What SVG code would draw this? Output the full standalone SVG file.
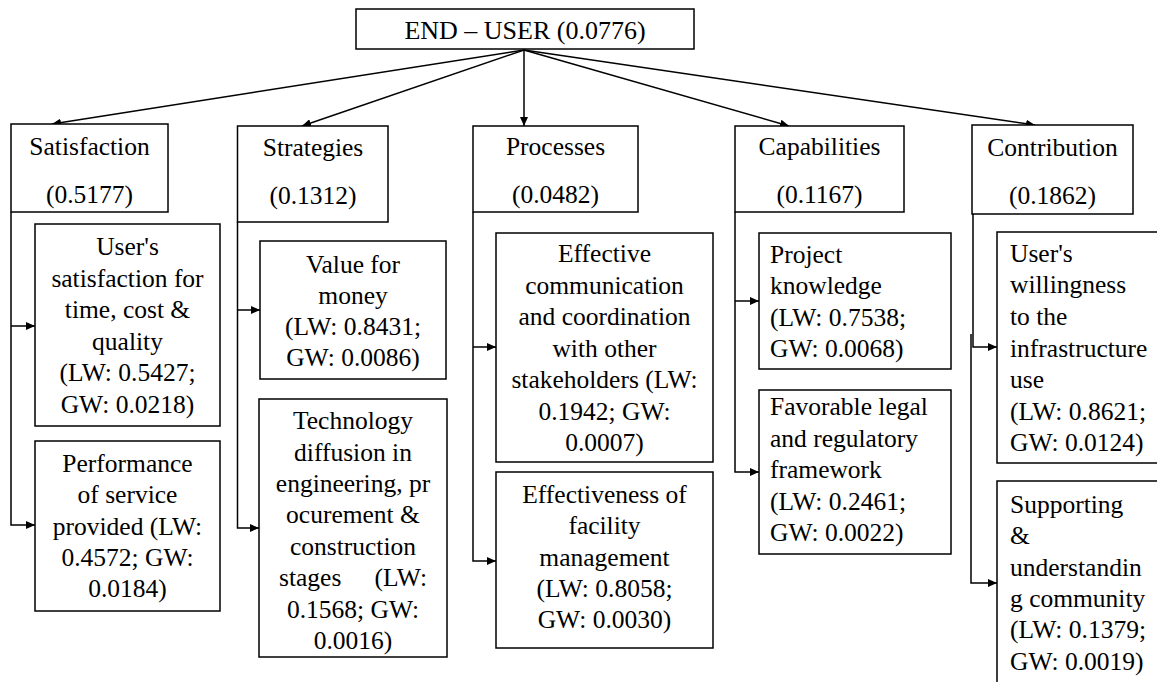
<svg xmlns="http://www.w3.org/2000/svg" width="1157" height="682" viewBox="0 0 1157 682">
  <style>
    .box { fill: #fff; stroke: #000; stroke-width: 1.5; }
    .t { font-family: "Liberation Serif", Tinos, "Times New Roman", Times, "DejaVu Serif", serif; font-size: 25.5px; fill: #000; }
    .c { text-anchor: middle; }
    .e { text-anchor: end; }
    .top { font-size: 26px; }
    .edge { fill: none; stroke: #000; stroke-width: 1.5; marker-end: url(#ah); }
  </style>
  <defs>
    <marker id="ah" markerUnits="userSpaceOnUse" markerWidth="10" markerHeight="8" refX="9" refY="4" orient="auto">
      <path d="M0,0 L9,4 L0,8 Z" fill="#000"/>
    </marker>
  </defs>
  <rect width="1157" height="682" fill="#fff"/>

  <!-- connectors -->
  <g id="connectors">
    <path class="edge" d="M524,50 L52,124"/>
    <path class="edge" d="M524,50 L302,126"/>
    <path class="edge" d="M524,50 L524,126"/>
    <path class="edge" d="M524,50 L789,126"/>
    <path class="edge" d="M524,50 L1035,125"/>

    <path class="edge" d="M11,212 V525 H35"/>
    <path class="edge" d="M11,326 H35"/>

    <path class="edge" d="M237.5,222 V528 H259"/>
    <path class="edge" d="M237.5,310 H260"/>

    <path class="edge" d="M473,212 V561 H496"/>
    <path class="edge" d="M473,347 H496"/>

    <path class="edge" d="M735,212 V472 H759"/>
    <path class="edge" d="M735,301 H759"/>

    <path class="edge" d="M973,214 V347 H997"/>
    <path class="edge" d="M971,334 V583 H997"/>
  </g>

  <!-- root -->
  <g id="end-user">
    <rect class="box" x="356" y="9" width="338" height="40"/>
    <text class="t top c" x="525" y="39">END – USER (0.0776)</text>
  </g>

  <!-- criteria -->
  <g id="satisfaction">
    <rect class="box" x="11" y="124" width="157" height="88"/>
    <text class="t c" x="89.5" y="155">Satisfaction</text>
    <text class="t c" x="89.5" y="203">(0.5177)</text>
  </g>
  <g id="strategies">
    <rect class="box" x="237.5" y="126" width="150.5" height="96"/>
    <text class="t c" x="313" y="156">Strategies</text>
    <text class="t c" x="313" y="204">(0.1312)</text>
  </g>
  <g id="processes">
    <rect class="box" x="473" y="126" width="165" height="86"/>
    <text class="t c" x="555.5" y="155">Processes</text>
    <text class="t c" x="555.5" y="203">(0.0482)</text>
  </g>
  <g id="capabilities">
    <rect class="box" x="735" y="126" width="169" height="86"/>
    <text class="t c" x="819.5" y="155">Capabilities</text>
    <text class="t c" x="819.5" y="203">(0.1167)</text>
  </g>
  <g id="contribution">
    <rect class="box" x="972" y="125" width="161" height="89"/>
    <text class="t c" x="1052.5" y="156">Contribution</text>
    <text class="t c" x="1052.5" y="204">(0.1862)</text>
  </g>

  <!-- sub-criteria: satisfaction -->
  <g id="users-satisfaction">
    <rect class="box" x="35" y="224" width="185" height="202"/>
    <text class="t c" x="127.5" y="255">User's</text>
    <text class="t c" x="127.5" y="286.6">satisfaction for</text>
    <text class="t c" x="127.5" y="318.2">time, cost &amp;</text>
    <text class="t c" x="127.5" y="349.8">quality</text>
    <text class="t c" x="127.5" y="381.4">(LW: 0.5427;</text>
    <text class="t c" x="127.5" y="413">GW: 0.0218)</text>
  </g>
  <g id="performance">
    <rect class="box" x="35" y="441" width="185" height="170"/>
    <text class="t c" x="127.5" y="472">Performance</text>
    <text class="t c" x="127.5" y="503">of service</text>
    <text class="t c" x="127.5" y="534.5">provided (LW:</text>
    <text class="t c" x="127.5" y="566">0.4572; GW:</text>
    <text class="t c" x="127.5" y="597">0.0184)</text>
  </g>

  <!-- sub-criteria: strategies -->
  <g id="value-for-money">
    <rect class="box" x="260" y="241" width="186" height="138"/>
    <text class="t c" x="353" y="273">Value for</text>
    <text class="t c" x="353" y="304">money</text>
    <text class="t c" x="353" y="335">(LW: 0.8431;</text>
    <text class="t c" x="353" y="366">GW: 0.0086)</text>
  </g>
  <g id="technology-diffusion">
    <rect class="box" x="259" y="399" width="188" height="258"/>
    <text class="t c" x="353" y="429">Technology</text>
    <text class="t c" x="353" y="460.5">diffusion in</text>
    <text class="t c" x="353" y="492">engineering, pr</text>
    <text class="t c" x="353" y="523">ocurement &amp;</text>
    <text class="t c" x="353" y="554.5">construction</text>
    <text class="t" x="279" y="586">stages</text>
    <text class="t e" x="427" y="586">(LW:</text>
    <text class="t c" x="353" y="617.5">0.1568; GW:</text>
    <text class="t c" x="353" y="649">0.0016)</text>
  </g>

  <!-- sub-criteria: processes -->
  <g id="effective-communication">
    <rect class="box" x="496" y="233" width="217" height="229"/>
    <text class="t c" x="604.5" y="262">Effective</text>
    <text class="t c" x="604.5" y="293.5">communication</text>
    <text class="t c" x="604.5" y="325">and coordination</text>
    <text class="t c" x="604.5" y="356.5">with other</text>
    <text class="t c" x="604.5" y="388">stakeholders (LW:</text>
    <text class="t c" x="604.5" y="419.5">0.1942; GW:</text>
    <text class="t c" x="604.5" y="451">0.0007)</text>
  </g>
  <g id="facility-management">
    <rect class="box" x="496" y="472" width="217" height="176"/>
    <text class="t c" x="604.5" y="503">Effectiveness of</text>
    <text class="t c" x="604.5" y="534">facility</text>
    <text class="t c" x="604.5" y="565.5">management</text>
    <text class="t c" x="604.5" y="597">(LW: 0.8058;</text>
    <text class="t c" x="604.5" y="628">GW: 0.0030)</text>
  </g>

  <!-- sub-criteria: capabilities -->
  <g id="project-knowledge">
    <rect class="box" x="759" y="233" width="192" height="136"/>
    <text class="t" x="770" y="263">Project</text>
    <text class="t" x="770" y="294">knowledge</text>
    <text class="t" x="770" y="326">(LW: 0.7538;</text>
    <text class="t" x="770" y="357">GW: 0.0068)</text>
  </g>
  <g id="legal-framework">
    <rect class="box" x="759" y="390" width="192" height="164"/>
    <text class="t" x="770" y="415">Favorable legal</text>
    <text class="t" x="770" y="447">and regulatory</text>
    <text class="t" x="770" y="478">framework</text>
    <text class="t" x="770" y="510">(LW: 0.2461;</text>
    <text class="t" x="770" y="541">GW: 0.0022)</text>
  </g>

  <!-- sub-criteria: contribution -->
  <g id="users-willingness">
    <rect class="box" x="997" y="232" width="162" height="231"/>
    <text class="t" x="1010" y="262">User's</text>
    <text class="t" x="1010" y="293">willingness</text>
    <text class="t" x="1010" y="325">to the</text>
    <text class="t" x="1010" y="356.5">infrastructure</text>
    <text class="t" x="1010" y="388">use</text>
    <text class="t" x="1010" y="419.5">(LW: 0.8621;</text>
    <text class="t" x="1010" y="451">GW: 0.0124)</text>
  </g>
  <g id="supporting-community">
    <rect class="box" x="997" y="481" width="162" height="210"/>
    <text class="t" x="1010" y="513">Supporting</text>
    <text class="t" x="1010" y="544">&amp;</text>
    <text class="t" x="1010" y="575.5">understandin</text>
    <text class="t" x="1010" y="607">g community</text>
    <text class="t" x="1010" y="638">(LW: 0.1379;</text>
    <text class="t" x="1010" y="669.5">GW: 0.0019)</text>
  </g>
</svg>
